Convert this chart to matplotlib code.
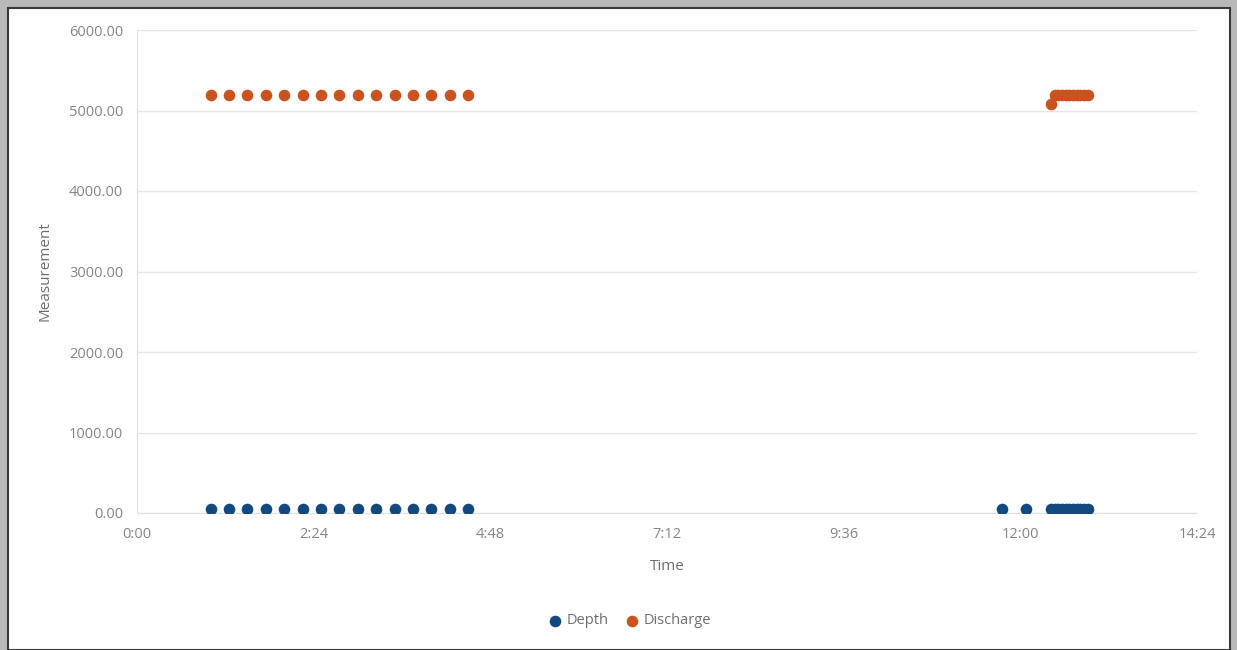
import numpy as np
import matplotlib
matplotlib.use("Agg")
import matplotlib.pyplot as plt
from matplotlib.ticker import FuncFormatter, MultipleLocator
from matplotlib.patches import Rectangle

plt.rcParams['font.family'] = ['Open Sans', 'DejaVu Sans']

# times as "H:MM"
depth_times = ["1:00", "1:15", "1:30", "1:45", "2:00", "2:15", "2:30", "2:45",
               "3:00", "3:15", "3:30", "3:45", "4:00", "4:15", "4:30",
               "11:45", "12:05", "12:25", "12:28", "12:31", "12:34", "12:37",
               "12:40", "12:43", "12:46", "12:49", "12:52", "12:55"]
depth_vals = [50] * 28

discharge_times = ["1:00", "1:15", "1:30", "1:45", "2:00", "2:15", "2:30", "2:45",
                   "3:00", "3:15", "3:30", "3:45", "4:00", "4:15", "4:30",
                   "12:25", "12:28", "12:31", "12:34", "12:37", "12:40",
                   "12:43", "12:46", "12:49", "12:52", "12:55"]
discharge_vals = [5190] * 15 + [5080] + [5190] * 10

def to_day(t):
    h, m = t.split(":")
    return (int(h) + int(m) / 60.0) / 24.0

def fmt_time(v, pos):
    mins = int(round(v * 24 * 60))
    return "%d:%02d" % (mins // 60, mins % 60)

fig = plt.figure(figsize=(12.37, 6.5), dpi=100)
fig.patch.set_facecolor('#b9b9b9')
fig.patches.append(Rectangle((8 / 1237, 0), 1222 / 1237, 642 / 650, transform=fig.transFigure,
                             facecolor='white', edgecolor='#3a3a3a', linewidth=1.5, zorder=-10))

ax = fig.add_axes([137 / 1237, 1 - 513 / 650, 1060 / 1237, 483 / 650])
ax.set_zorder(5)
ax.set_facecolor('white')

dx = [to_day(t) for t in depth_times]
qx = [to_day(t) for t in discharge_times]
ax.scatter(dx, depth_vals, s=70, color='#124a80', label='Depth', zorder=3, linewidths=0)
ax.scatter(qx, discharge_vals, s=70, color='#c9521f', label='Discharge', zorder=3, linewidths=0)

ax.set_xlim(0, 0.6)
ax.set_ylim(0, 6000)
ax.xaxis.set_major_locator(MultipleLocator(0.1))
ax.yaxis.set_major_locator(MultipleLocator(1000))
ax.xaxis.set_major_formatter(FuncFormatter(fmt_time))
ax.yaxis.set_major_formatter(FuncFormatter(lambda v, p: "%.2f" % v))

ax.grid(axis='y', color='#e6e6e6', linewidth=1)
ax.set_axisbelow(True)
for s in ['top', 'right']:
    ax.spines[s].set_visible(False)
for s in ['left', 'bottom']:
    ax.spines[s].set_color('#e0e0e0')
ax.tick_params(length=0, labelsize=10.5, colors='#858585', pad=10)

ax.set_xlabel('Time', fontsize=11, color='#6f6f6f', labelpad=12)
ax.set_ylabel('Measurement', fontsize=11, color='#6f6f6f', labelpad=12)

fig.legend(loc='center', bbox_to_anchor=(626 / 1237, 1 - 621 / 650), ncol=2, frameon=False,
           fontsize=10.5, handletextpad=-0.2, columnspacing=0.6, markerscale=1.0,
           labelcolor='#6f6f6f')

fig.savefig('out.png', dpi=100, facecolor=fig.get_facecolor())
